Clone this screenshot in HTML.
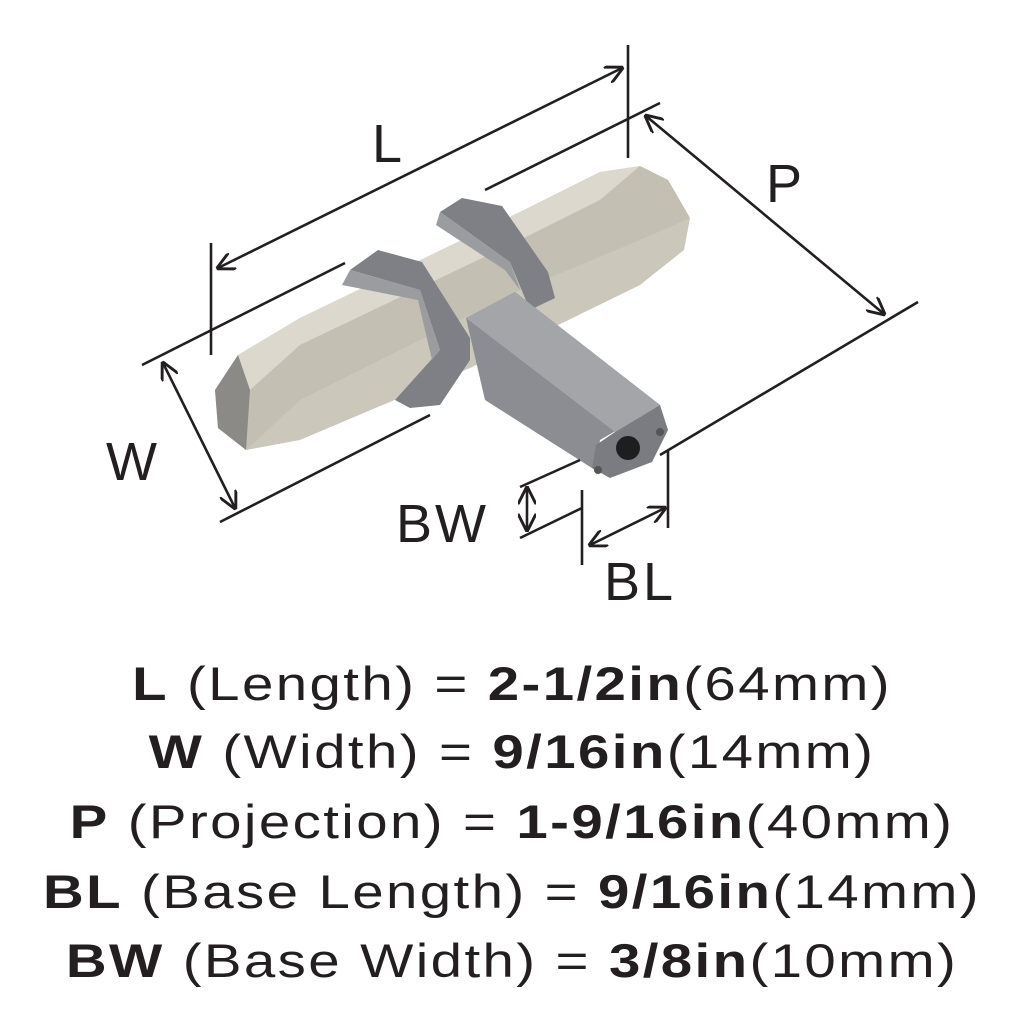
<!DOCTYPE html>
<html><head><meta charset="utf-8"><style>
body{margin:0;background:#fff;width:1024px;height:1024px;overflow:hidden;position:relative;font-family:"Liberation Sans",sans-serif;color:#231f20}
.t{position:absolute;left:0;width:1024px;text-align:center;font-size:47px;line-height:1;white-space:nowrap;letter-spacing:2px;transform:scaleX(1.2);transform-origin:512px 0}
.t b{font-weight:bold}
</style></head><body>
<svg width="1024" height="620" style="position:absolute;left:0;top:0" viewBox="0 0 1024 620">
<defs><marker id="a" viewBox="0 0 10 10" refX="9" refY="5" markerWidth="7" markerHeight="7" orient="auto-start-reverse"><path d="M0,0 L10,5 L0,10" fill="none" stroke="#231f20" stroke-width="1.6"/></marker></defs>
<polygon points="215,390 238,355 300,318 520,212 600,172 640,166 668,180 690,218 684,250 640,285 470,368 300,440 246,450 218,428" fill="#cbc7bb"/>
<polygon points="238,355 300,318 520,212 600,172 640,166 600,200 520,240 300,345 250,390" fill="#dcd8cd"/>
<polygon points="250,390 300,345 520,240 600,200 640,166 668,180 690,218 640,240 520,290 300,400 246,450 240,420" fill="#c3bfb3"/>
<polygon points="215,390 238,355 250,390 246,450 218,428" fill="#8c8a86"/>
<polygon points="350,270 378,250 422,262 470,338 470,360 440,405 410,408 395,400 440,350 420,290" fill="#7e8085"/>
<polygon points="342,285 350,270 420,290 440,350 432,360 418,300" fill="#9a9ca0"/>
<polygon points="440,212 462,198 502,206 548,272 555,298 530,310 510,262" fill="#7e8085"/>
<polygon points="436,225 440,212 510,262 520,290 505,270" fill="#9a9ca0"/>
<polygon points="466,318 515,292 660,405 600,440 595,470 485,400" fill="#8b8d92"/>
<polygon points="466,318 515,292 660,405 615,432" fill="#a3a5a9"/>
<polygon points="615,432 660,405 668,430 652,462 610,478 592,468 596,445" fill="#7a7c81"/>
<circle cx="628" cy="448" r="12" fill="#1e1e20"/>
<circle cx="660" cy="432" r="4" fill="#555"/><circle cx="598" cy="470" r="4" fill="#555"/>
<g stroke="#231f20" stroke-width="2.6" fill="none">
<line x1="218" y1="268" x2="622" y2="68" marker-start="url(#a)" marker-end="url(#a)"/>
<line x1="628" y1="45" x2="628" y2="158"/><line x1="211" y1="243" x2="211" y2="355"/>
<line x1="485" y1="190" x2="660" y2="103"/><line x1="142" y1="365" x2="345" y2="263"/>
<line x1="646" y1="116" x2="884" y2="314" marker-start="url(#a)" marker-end="url(#a)"/>
<line x1="660" y1="455" x2="918" y2="302"/>
<line x1="163" y1="363" x2="235" y2="508" marker-start="url(#a)" marker-end="url(#a)"/>
<line x1="220" y1="522" x2="430" y2="415"/>
<line x1="527" y1="488" x2="527" y2="530" marker-start="url(#a)" marker-end="url(#a)"/>
<line x1="520" y1="487" x2="580" y2="460"/><line x1="520" y1="538" x2="582" y2="508"/>
<line x1="590" y1="545" x2="665" y2="508" marker-start="url(#a)" marker-end="url(#a)"/>
<line x1="582" y1="490" x2="582" y2="565"/><line x1="668" y1="450" x2="668" y2="528"/>
</g>
<g font-family="Liberation Sans,sans-serif" font-size="54" fill="#231f20" letter-spacing="3">
<text x="372" y="162">L</text><text x="766" y="202">P</text><text x="106" y="480">W</text>
<text x="396" y="542">BW</text><text x="604" y="600">BL</text></g>
</svg>
<div class="t" style="top:660px"><b>L</b> (Length) = <b>2-1/2in</b>(64mm)</div>
<div class="t" style="top:728px"><b>W</b> (Width) = <b>9/16in</b>(14mm)</div>
<div class="t" style="top:798px"><b>P</b> (Projection) = <b>1-9/16in</b>(40mm)</div>
<div class="t" style="top:868px"><b>BL</b> (Base Length) = <b>9/16in</b>(14mm)</div>
<div class="t" style="top:937px"><b>BW</b> (Base Width) = <b>3/8in</b>(10mm)</div>
</body></html>
